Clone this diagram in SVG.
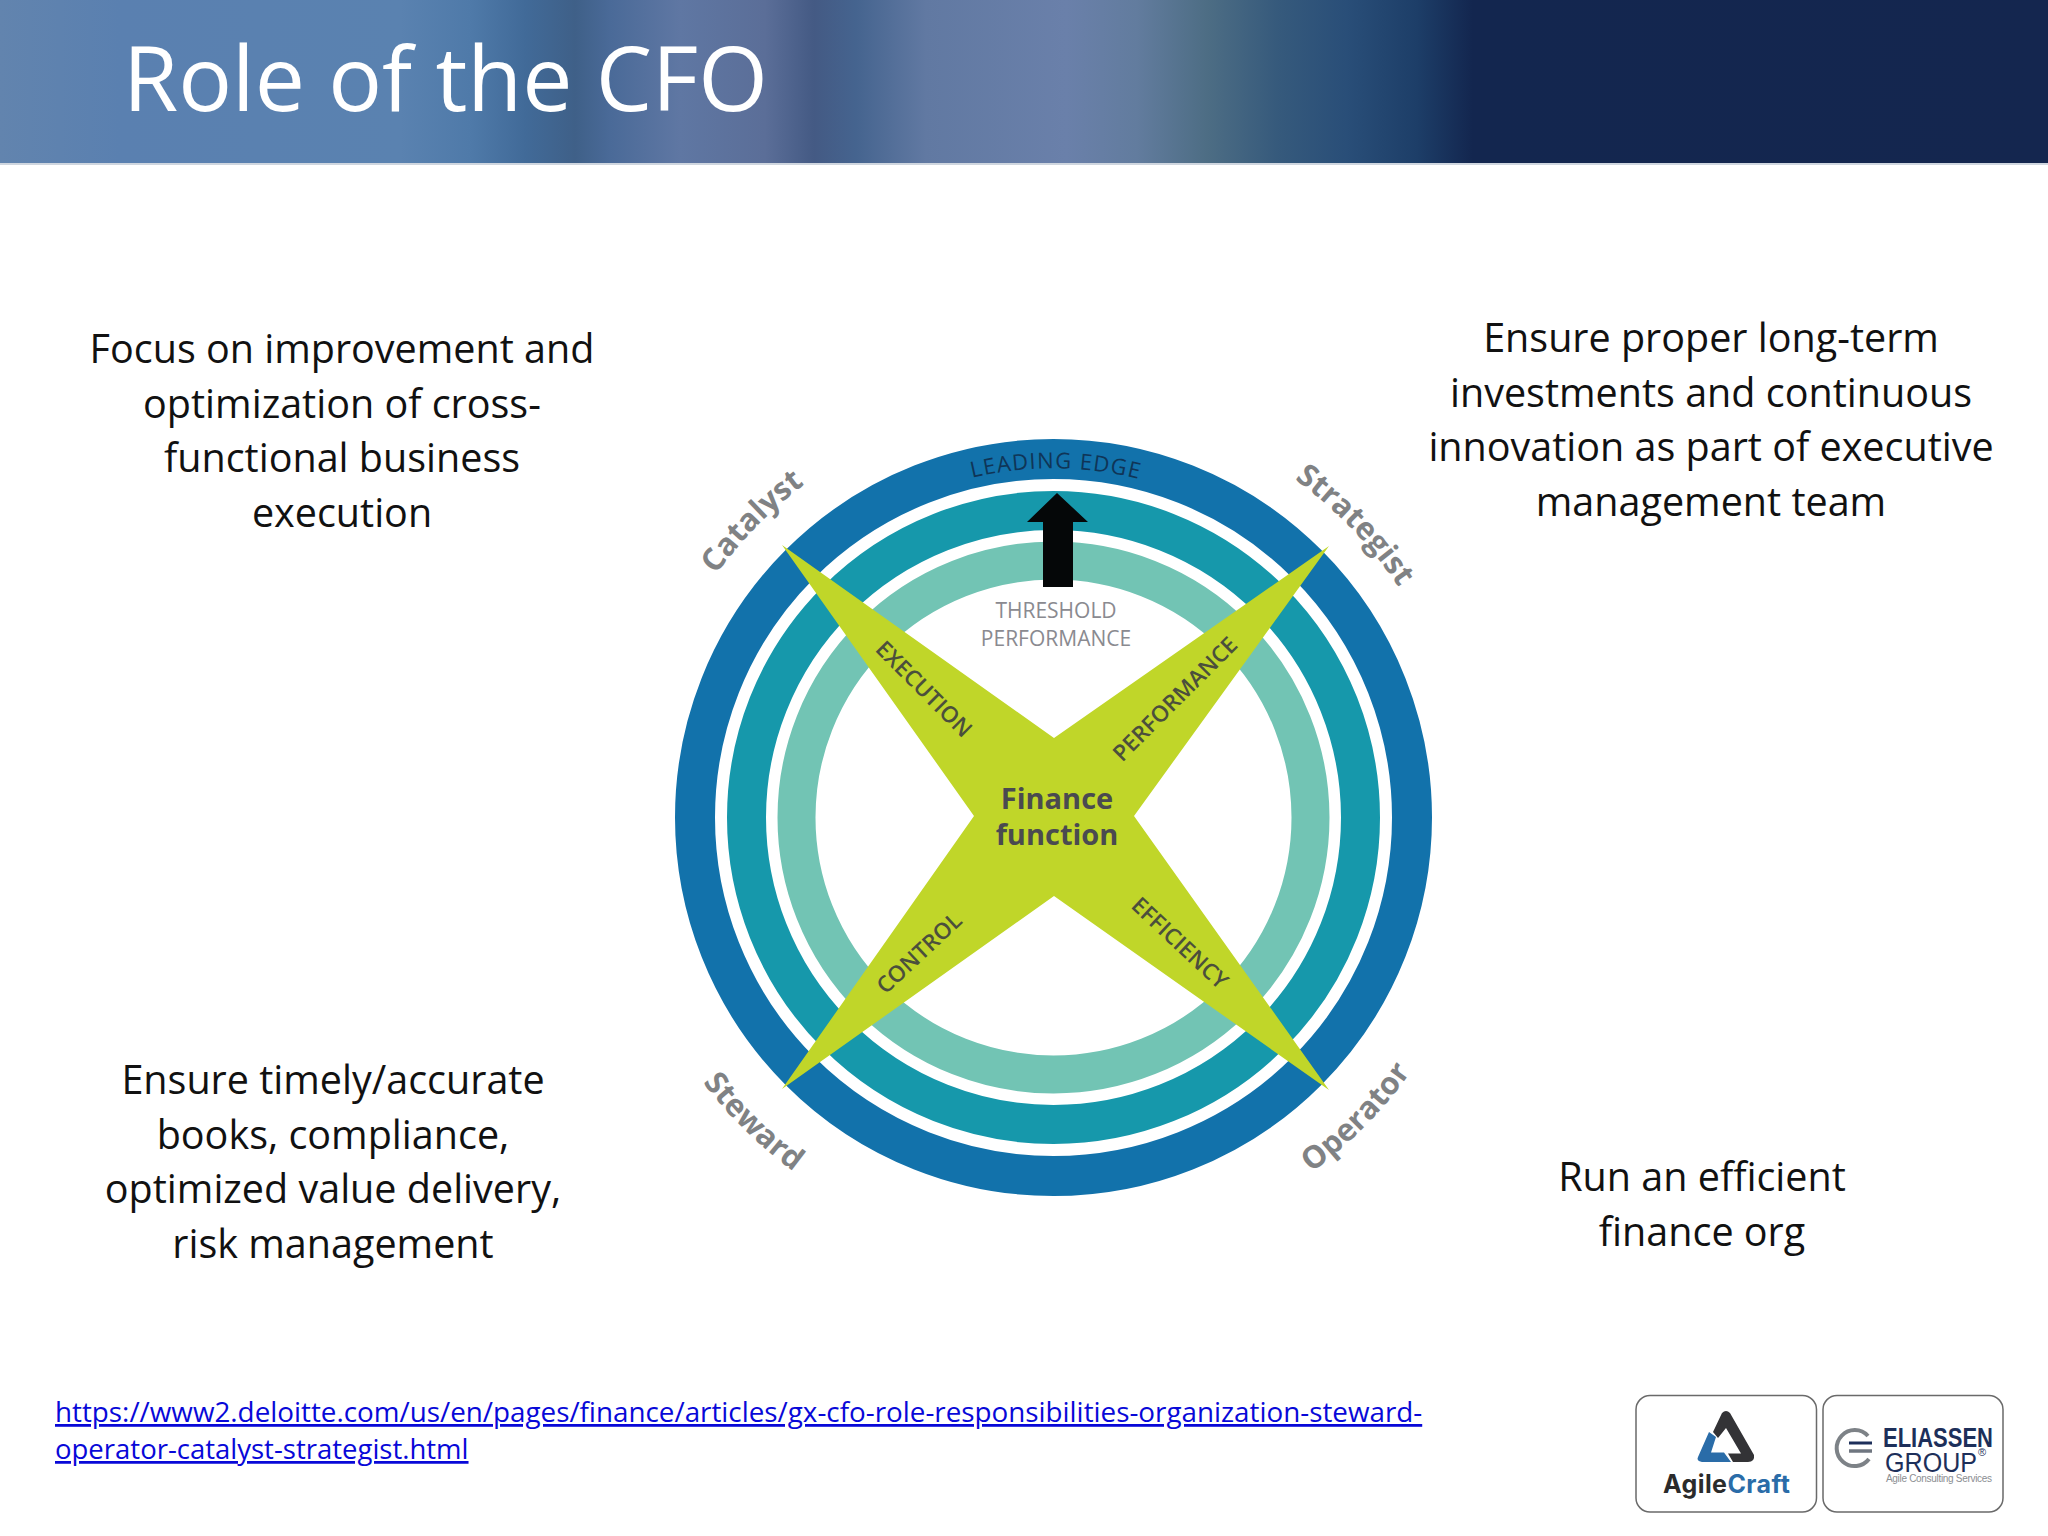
<svg xmlns="http://www.w3.org/2000/svg" width="2048" height="1536" viewBox="0 0 2048 1536">
<style>
text{font-family:"Open Sans","Liberation Sans",sans-serif}
.body{font-size:39.5px;fill:#111;text-anchor:middle}
.role{font-size:31px;font-weight:700;fill:#808284;text-anchor:middle}
.axis{font-size:22.5px;font-weight:600;fill:#4b4f3c;text-anchor:middle}
.link{font-size:27.8px;fill:#0808d8;text-decoration:underline}
.box{fill:#fff;stroke:#6a6a6a;stroke-width:1.5}
</style>
<defs>
<linearGradient id="hdr" x1="0" x2="2048" y1="0" y2="0" gradientUnits="userSpaceOnUse">
<stop offset="0" stop-color="#6284ae"/><stop offset=".0586" stop-color="#5a80b0"/><stop offset=".1953" stop-color="#5a82b0"/><stop offset=".2295" stop-color="#4f7aa9"/><stop offset=".2568" stop-color="#416a98"/><stop offset=".2808" stop-color="#3f6088"/><stop offset=".2979" stop-color="#4a6a98"/><stop offset=".332" stop-color="#5f77a3"/><stop offset=".3735" stop-color="#5b6e98"/><stop offset=".3975" stop-color="#445a84"/><stop offset=".418" stop-color="#45648f"/><stop offset=".4521" stop-color="#6179a2"/><stop offset=".5205" stop-color="#6a80aa"/><stop offset=".5552" stop-color="#627c9e"/><stop offset=".5894" stop-color="#4d6d84"/><stop offset=".6235" stop-color="#365a7c"/><stop offset=".6577" stop-color="#294e78"/><stop offset=".6919" stop-color="#1d3e68"/><stop offset=".7192" stop-color="#13264f"/><stop offset="1" stop-color="#14264f"/>
</linearGradient>
<path id="pCat" d="M663 675A415 415 0 0 1 911 427"/>
<path id="pStr" d="M1195 427A415 415 0 0 1 1443 675"/>
<path id="pSte" d="M640 967A440 440 0 0 0 903 1230"/>
<path id="pOpe" d="M1203 1230A440 440 0 0 0 1466 967"/>
<path id="pLead" d="M829 550A348 348 0 0 1 1277 550"/>
</defs>
<rect width="2048" height="1536" fill="#fff"/>
<g id="header">
<rect width="2048" height="163" fill="url(#hdr)"/>
<rect y="163" width="2048" height="2" fill="#cfd6df"/>
<text x="123" y="111" font-size="89.5" fill="#fff">Role of the CFO</text>
</g>
<g id="catalyst-note"><text class="body"><tspan x="342" y="363">Focus on improvement and</tspan><tspan x="342" y="418">optimization of cross-</tspan><tspan x="342" y="472">functional business</tspan><tspan x="342" y="527">execution</tspan></text></g>
<g id="strategist-note"><text class="body"><tspan x="1711" y="352">Ensure proper long-term</tspan><tspan x="1711" y="407">investments and continuous</tspan><tspan x="1711" y="461">innovation as part of executive</tspan><tspan x="1711" y="516">management team</tspan></text></g>
<g id="steward-note"><text class="body"><tspan x="333" y="1094">Ensure timely/accurate</tspan><tspan x="333" y="1149">books, compliance,</tspan><tspan x="333" y="1203">optimized value delivery,</tspan><tspan x="333" y="1258">risk management</tspan></text></g>
<g id="operator-note"><text class="body"><tspan x="1702" y="1191">Run an efficient</tspan><tspan x="1702" y="1246">finance org</tspan></text></g>
<g id="wheel">
<circle cx="1053.5" cy="817.5" r="358.5" fill="none" stroke="#1272ab" stroke-width="40"/>
<circle cx="1053.5" cy="817.5" r="307" fill="none" stroke="#1698ab" stroke-width="39"/>
<circle cx="1053.5" cy="817.5" r="257" fill="none" stroke="#72c4b4" stroke-width="38"/>
<path d="M1057 493L1088 522H1073V587H1043V522H1027Z" fill="#050708"/>
<path d="M782 545L1054 738L1329 546L1134 816L1329 1090L1054 896L782 1089L974 816Z" fill="#c0d629"/>
<text font-size="22" fill="#0f3557" text-anchor="middle" letter-spacing="1.2"><textPath href="#pLead" startOffset="50.6%">LEADING EDGE</textPath></text>
<text x="1056" y="618" font-size="21" fill="#8a8a90" text-anchor="middle">THRESHOLD</text>
<text x="1056" y="646" font-size="21" fill="#8a8a90" text-anchor="middle">PERFORMANCE</text>
<text x="1057" y="809" font-size="29" font-weight="700" fill="#4a4a50" text-anchor="middle">Finance</text>
<text x="1057" y="845" font-size="29" font-weight="700" fill="#4a4a50" text-anchor="middle">function</text>
<text class="axis" transform="translate(924 689) rotate(45)" dy=".35em">EXECUTION</text>
<text class="axis" transform="translate(1175 699) rotate(-45)" dy=".35em">PERFORMANCE</text>
<text class="axis" transform="translate(1180 943) rotate(43)" dy=".35em">EFFICIENCY</text>
<text class="axis" transform="translate(919 953) rotate(-43)" dy=".35em">CONTROL</text>
<text class="role"><textPath href="#pCat" startOffset="49%">Catalyst</textPath></text>
<text class="role"><textPath href="#pStr" startOffset="52%">Strategist</textPath></text>
<text class="role"><textPath href="#pSte" startOffset="51%">Steward</textPath></text>
<text class="role"><textPath href="#pOpe" startOffset="50.5%">Operator</textPath></text>
</g>
<g id="source-link"><text class="link"><tspan x="55" y="1422">https://www2.deloitte.com/us/en/pages/finance/articles/gx-cfo-role-responsibilities-organization-steward-</tspan><tspan x="55" y="1459" font-size="27.5">operator-catalyst-strategist.html</tspan></text></g>
<g id="agilecraft-logo">
<rect class="box" x="1636" y="1395.5" width="180.5" height="116.5" rx="14"/>
<path d="M1709 1432L1716 1437L1711 1452.5H1724L1731 1462H1702Q1696 1461 1698 1457Z" fill="#2a6ca8"/>
<path d="M1722 1413Q1726 1409 1730 1413L1754 1455Q1755 1462 1748 1462H1733L1728 1453.5H1741L1726 1428L1718 1438L1713 1432Z" fill="#333336"/>
<text x="1663" y="1493" font-size="25" font-weight="700" textLength="127" style="font-family:Inter,sans-serif"><tspan fill="#2b2b2b">Agile</tspan><tspan fill="#2a6ca8">Craft</tspan></text>
</g>
<g id="eliassen-logo">
<rect class="box" x="1823" y="1395.5" width="180" height="116.5" rx="14"/>
<path d="M1868 1436A18 18 0 1 0 1869 1459" fill="none" stroke="#7d8287" stroke-width="4"/>
<path d="M1849 1443H1872" stroke="#1d2f5a" stroke-width="3"/>
<path d="M1849 1451H1872" stroke="#6f7680" stroke-width="3.5"/>
<text x="1883" y="1447" font-size="27" font-weight="700" fill="#1d2f5a" textLength="110" lengthAdjust="spacingAndGlyphs" style="font-family:'Liberation Sans',sans-serif">ELIASSEN</text>
<text x="1885" y="1472" font-size="27" fill="#1d2f5a" textLength="92" lengthAdjust="spacingAndGlyphs" style="font-family:'Liberation Sans',sans-serif">GROUP</text>
<text x="1978" y="1456" font-size="11" fill="#1d2f5a" style="font-family:'Liberation Sans',sans-serif">®</text>
<text x="1886" y="1482" font-size="10" fill="#8b8e92" textLength="106" style="font-family:'Liberation Sans',sans-serif">Agile Consulting Services</text>
</g>
</svg>
